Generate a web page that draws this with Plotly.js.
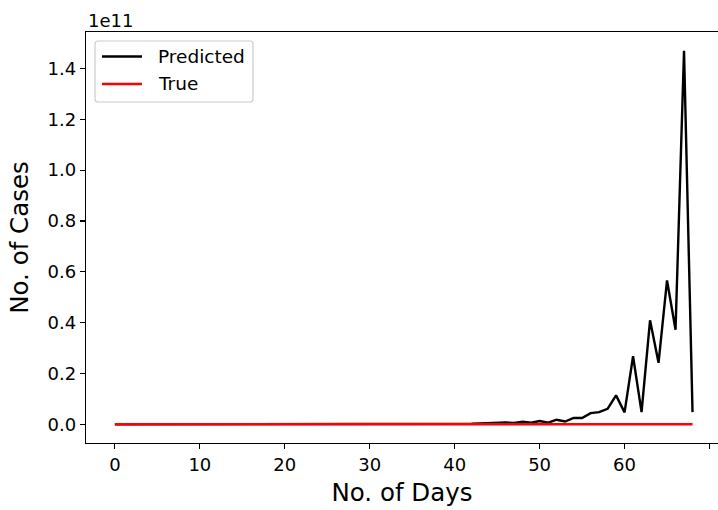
<!DOCTYPE html>
<html>
<head>
<meta charset="utf-8">
<script src="https://cdn.plot.ly/plotly-3.0.1.min.js"></script>
<style>html,body{margin:0;padding:0;background:#fff;}#chart{width:718px;height:510px;}</style>
</head>
<body>
<div id="chart"></div>
<script>
// Day index
const days = [0,1,2,3,4,5,6,7,8,9,10,11,12,13,14,15,16,17,18,19,20,21,22,23,24,25,26,27,28,29,30,31,32,33,34,35,36,37,38,39,40,41,42,43,44,45,46,47,48,49,50,51,52,53,54,55,56,57,58,59,60,61,62,63,64,65,66,67,68];

// Predicted cases (raw counts)
const predicted = [
  1200, 1500, 2100, 2600, 3400, 4100, 5300, 6400, 8200, 9900,
  12500, 15300, 19400, 23800, 30100, 37000, 46800, 57500, 72600, 89300,
  1.13e5, 1.39e5, 1.76e5, 2.17e5, 2.74e5, 3.38e5, 4.28e5, 5.29e5, 6.7e5, 8.3e5,
  1.05e6, 1.3e6, 1.65e6, 2.05e6, 2.6e6, 3.2e6, 4.1e6, 5.1e6, 6.5e6, 8.1e6,
  1.0e8, 1.5e8, 2.0e8, 3.0e8, 4.0e8, 5.0e8, 7.0e8, 5.0e8, 1.0e9, 6.5e8,
  1.3e9, 6.5e8, 1.8e9, 1.1e9, 2.5e9, 2.5e9, 4.4e9, 4.8e9, 6.1e9, 1.14e10,
  4.7e9, 2.68e10, 4.8e9, 4.09e10, 2.42e10, 5.66e10, 3.72e10, 1.47e11, 4.8e9
];

// True cases (raw counts)
const trueCases = [
  1, 1, 2, 3, 3, 5, 5, 6, 28, 30,
  31, 34, 39, 43, 56, 62, 73, 82, 102, 113,
  119, 142, 156, 194, 244, 330, 396, 499, 536, 657,
  727, 887, 987, 1024, 1251, 1397, 1998, 2543, 2567, 3082,
  3588, 4778, 5311, 5916, 6725, 7598, 8446, 9205, 10453, 11487,
  12322, 13430, 14352, 15722, 17615, 18539, 20080, 21370, 23077, 24530,
  26283, 27890, 29451, 31324, 33062, 34863, 37257, 39699, 42505
];

const seriesNames = ["Predicted", "True"];
const seriesColors = ["#000000", "#ff0000"];

const yTickVals = [0, 0.2e11, 0.4e11, 0.6e11, 0.8e11, 1.0e11, 1.2e11, 1.4e11];
const yTickText = ["0.0", "0.2", "0.4", "0.6", "0.8", "1.0", "1.2", "1.4"];
const xTickVals = [0, 10, 20, 30, 40, 50, 60, 70];
const xTickText = ["0", "10", "20", "30", "40", "50", "60", "70"];

const FONT = "DejaVu Sans, sans-serif";
const W = 718, H = 510;
const M = {l: 86, r: 0, t: 32, b: 67};
const PW = W - M.l - M.r, PH = H - M.t - M.b;
const px = v => (v - M.l) / PW;       // pixel x -> paper x
const py = v => (H - M.b - v) / PH;   // pixel y -> paper y

const traces = [
  {x: days, y: predicted, type: 'scatter', mode: 'lines', name: seriesNames[0],
   line: {color: seriesColors[0], width: 2.4}, showlegend: false},
  {x: days, y: trueCases, type: 'scatter', mode: 'lines', name: seriesNames[1],
   line: {color: seriesColors[1], width: 2.4}, showlegend: false}
];

// Hand-drawn matplotlib-style legend box
const bx0 = 95, bx1 = 253, by0 = 41, by1 = 102, rr = 3;
const boxPath =
  `M${px(bx0+rr)},${py(by0)} L${px(bx1-rr)},${py(by0)} Q${px(bx1)},${py(by0)} ${px(bx1)},${py(by0+rr)} ` +
  `L${px(bx1)},${py(by1-rr)} Q${px(bx1)},${py(by1)} ${px(bx1-rr)},${py(by1)} ` +
  `L${px(bx0+rr)},${py(by1)} Q${px(bx0)},${py(by1)} ${px(bx0)},${py(by1-rr)} ` +
  `L${px(bx0)},${py(by0+rr)} Q${px(bx0)},${py(by0)} ${px(bx0+rr)},${py(by0)} Z`;
const rowY = [56.5, 84];
const shapes = [{type: 'path', xref: 'paper', yref: 'paper', path: boxPath,
  fillcolor: 'rgba(255,255,255,0.8)', line: {color: '#cccccc', width: 1.2}, layer: 'above'}];
const annotations = [{
  text: '1e11', xref: 'paper', yref: 'paper', x: 0, y: 1,
  xanchor: 'left', yanchor: 'bottom', showarrow: false, yshift: -1,
  font: {family: FONT, size: 18, color: '#000000'}
}];
seriesNames.forEach((nm, i) => {
  shapes.push({type: 'line', xref: 'paper', yref: 'paper',
    x0: px(102), x1: px(142), y0: py(rowY[i]), y1: py(rowY[i]),
    line: {color: seriesColors[i], width: 2.4}, layer: 'above'});
  annotations.push({text: nm, xref: 'paper', yref: 'paper', x: px(156), y: py(rowY[i]),
    xanchor: 'left', yanchor: 'middle', showarrow: false,
    font: {family: FONT, size: 18.5, color: '#000000'}});
});

const layout = {
  width: W, height: H,
  margin: {l: M.l, r: M.r, t: M.t, b: M.b, pad: 0},
  paper_bgcolor: '#ffffff', plot_bgcolor: '#ffffff',
  font: {family: FONT, color: '#000000', size: 18},
  showlegend: false,
  xaxis: {
    range: [-3.4, 71.0], showgrid: false, zeroline: false,
    showline: true, linecolor: '#000000', linewidth: 1.2, mirror: true,
    ticks: 'outside', ticklen: 5, tickwidth: 1.2, tickcolor: '#000000',
    tickmode: 'array', tickvals: xTickVals, ticktext: xTickText,
    tickfont: {family: FONT, size: 18, color: '#000000'},
    title: {text: 'No. of Days', font: {family: FONT, size: 24.5, color: '#000000'}, standoff: 10}
  },
  yaxis: {
    range: [-0.0735e11, 1.5435e11], showgrid: false, zeroline: false,
    showline: true, linecolor: '#000000', linewidth: 1.2, mirror: false,
    ticks: 'outside', ticklen: 5, tickwidth: 1.2, tickcolor: '#000000',
    tickmode: 'array', tickvals: yTickVals, ticktext: yTickText,
    tickfont: {family: FONT, size: 18, color: '#000000'},
    title: {text: 'No. of Cases', font: {family: FONT, size: 24.5, color: '#000000'}, standoff: 12}
  },
  shapes: shapes,
  annotations: annotations
};

Plotly.newPlot('chart', traces, layout, {displayModeBar: false, staticPlot: true});
</script>
</body>
</html>
